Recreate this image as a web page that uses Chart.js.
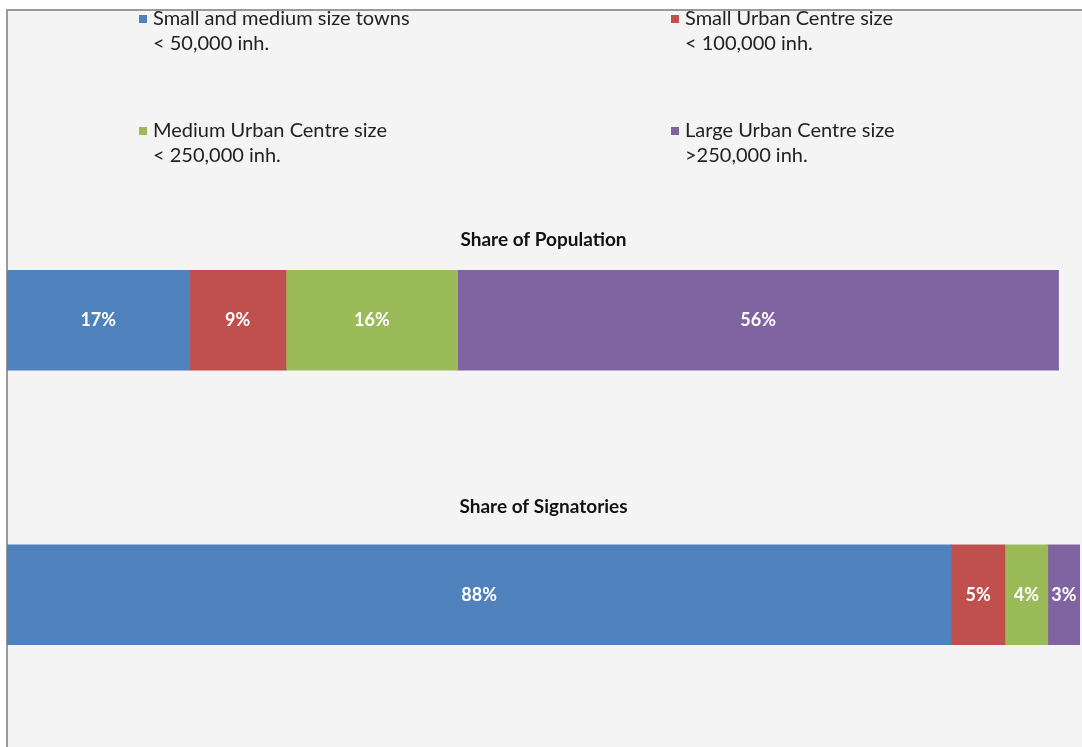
<!DOCTYPE html>
<html>
<head>
<meta charset="utf-8">
<script src="https://cdn.jsdelivr.net/npm/chart.js@4.4.0/dist/chart.umd.min.js"></script>
<style>
  html, body { margin: 0; padding: 0; background: #fff; }
  #frame {
    position: absolute; left: 6px; top: 9px; width: 1076px; height: 738px;
    border-top: 2px solid #9a9a9a; border-left: 2px solid #9a9a9a;
    background: #f4f4f4;
  }
  #wrap { position: absolute; left: 0; top: 0; width: 1082px; height: 747px; }
</style>
</head>
<body>
<div id="frame"></div>
<div id="wrap"><canvas id="shareChart"></canvas></div>
<script>
// bars (one per row)
var categories = ['Share of Population', 'Share of Signatories'];

// town size classes
var classNames = [
    ['Small and medium size towns', '< 50,000 inh.'],
    ['Small Urban Centre size', '< 100,000 inh.'],
    ['Medium Urban Centre size', '< 250,000 inh.'],
    ['Large Urban Centre size', '>250,000 inh.']
];
var classColors = ['#4f81bd', '#c0504d', '#9bbb59', '#8064a2'];

// percent values, [population, signatories]
var smallTowns = [17, 88];
var smallUrban = [9, 5];
var mediumUrban = [16, 4];
var largeUrban = [56, 3];

var seriesValues = [smallTowns, smallUrban, mediumUrban, largeUrban];

var FONT = 'Lato, "Open Sans", sans-serif';

// draws the legend block, the row titles and the white % labels
var decorPlugin = {
    id: 'decor',
    afterDatasetsDraw: function (chart) {
        var ctx = chart.ctx;
        ctx.save();

        // legend, 2 columns x 2 rows
        var colX = [143, 675];
        var rowY = [19, 131];
        chart.data.datasets.forEach(function (ds, i) {
            var x = colX[i % 2];
            var y = rowY[Math.floor(i / 2)];
            ctx.fillStyle = ds.backgroundColor;
            ctx.fillRect(x - 4, y - 4, 8, 8);
            ctx.fillStyle = '#222';
            ctx.font = '20px ' + FONT;
            ctx.textAlign = 'left';
            ctx.textBaseline = 'middle';
            ds.legendLines.forEach(function (line, k) {
                ctx.fillText(line, x + 10, y + k * 25);
            });
        });

        // row titles
        var yScale = chart.scales.y;
        ctx.fillStyle = '#111';
        ctx.font = 'bold 19px ' + FONT;
        ctx.textAlign = 'center';
        categories.forEach(function (cat, j) {
            var cy = yScale.getPixelForValue(j);
            ctx.fillText(cat, (chart.chartArea.left + chart.chartArea.right) / 2, cy - 80 - j * 8);
        });

        // value labels
        ctx.fillStyle = '#fff';
        ctx.font = 'bold 18px ' + FONT;
        chart.data.datasets.forEach(function (ds, i) {
            chart.getDatasetMeta(i).data.forEach(function (bar, j) {
                var cx = (bar.x + bar.base) / 2;
                ctx.fillText(ds.data[j] + '%', cx, bar.y);
            });
        });
        ctx.restore();
    }
};

var ctx = document.getElementById('shareChart').getContext('2d');
var shareChart = new Chart(ctx, {
    type: 'bar',
    data: {
        labels: categories,
        datasets: seriesValues.map(function (vals, i) {
            return {
                label: classNames[i].join(' '),
                legendLines: classNames[i],
                data: vals,
                backgroundColor: classColors[i],
                borderWidth: 0,
                barThickness: 100
            };
        })
    },
    options: {
        indexAxis: 'y',
        responsive: true,
        maintainAspectRatio: false,
        animation: false,
        layout: { padding: { left: 7, right: 2, top: 183, bottom: 15 } },
        scales: {
            x: { stacked: true, min: 0, max: 100, display: false },
            y: { stacked: true, display: false }
        },
        plugins: {
            legend: { display: false },
            tooltip: { enabled: false }
        }
    },
    plugins: [decorPlugin]
});
</script>
</body>
</html>
